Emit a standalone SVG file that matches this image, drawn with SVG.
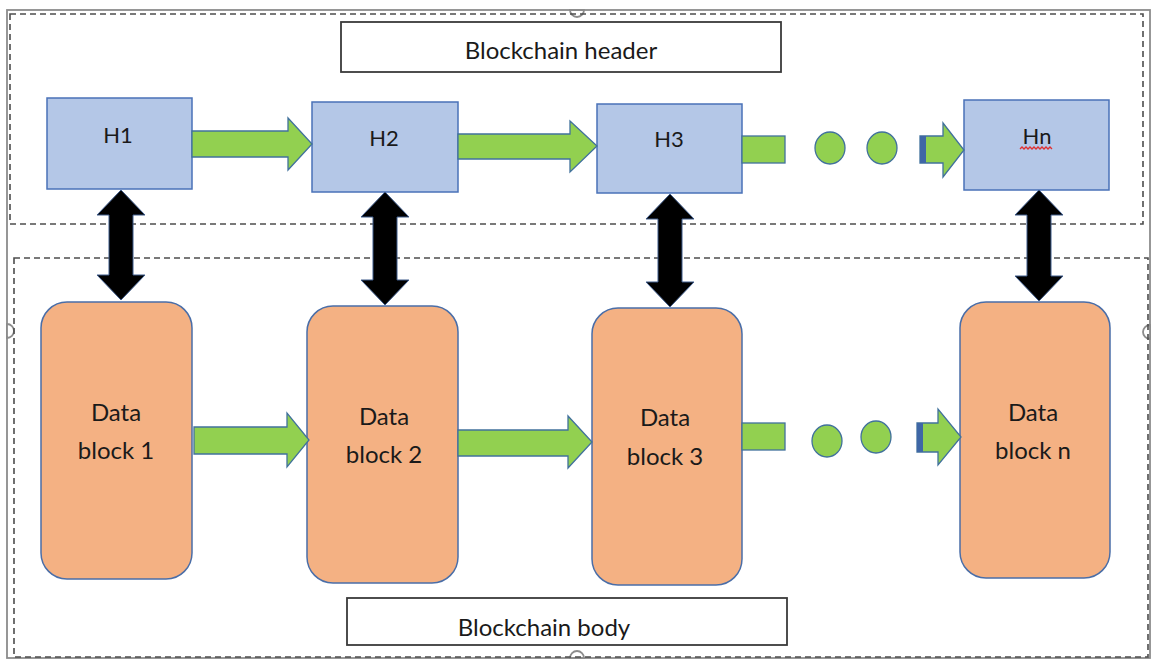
<svg xmlns="http://www.w3.org/2000/svg" width="1153" height="662" viewBox="0 0 1153 662">
  <defs>
    <style>
      .frame { fill: none; stroke: #8c8c8c; stroke-width: 1.8; }
      .handle { fill: #ffffff; stroke: #8c8c8c; stroke-width: 1.8; }
      .dash { fill: none; stroke: #4d4d4d; stroke-width: 1.6; stroke-dasharray: 6 4; }
      .label { fill: #ffffff; stroke: #3a3a3a; stroke-width: 1.8; }
      .hdr { fill: #b4c7e7; stroke: #4a72b8; stroke-width: 1.5; }
      .blk { fill: #f4b183; stroke: #4a6ea8; stroke-width: 1.5; }
      .green { fill: #92d050; stroke: #41719c; stroke-width: 1.3; }
      .stripe { fill: #3f67a6; }
      .dbl { fill: #000000; stroke: #3d5a8a; stroke-width: 1; }
      text { font-family: Lato, "Liberation Sans", sans-serif; fill: #1a1a1a; text-anchor: middle; }
      .t22 { font-size: 22px; }
      .t24 { font-size: 24px; }
      .squiggle { fill: none; stroke: #e03030; stroke-width: 1.3; }
    </style>
  </defs>

  <!-- outer selection frame with handles -->
  <g id="frame">
    <rect class="frame" x="7" y="10" width="1143" height="648"/>
    <path class="handle" d="M570,10 A7,7 0 0 0 584,10 Z"/>
    <path class="handle" d="M570,658 A7,7 0 0 1 584,658 Z"/>
    <path class="handle" d="M7,324 A7,7 0 0 1 7,338 Z"/>
    <path class="handle" d="M1150,325 A7,7 0 0 0 1150,339 Z"/>
  </g>

  <!-- dashed group outlines -->
  <g id="header-group">
    <rect class="dash" x="10" y="14" width="1133" height="210"/>
    <rect class="label" x="341" y="22" width="440" height="50"/>
    <text class="t24" x="561" y="59">Blockchain header</text>
  </g>
  <g id="body-group">
    <rect class="dash" x="14" y="258" width="1134" height="399"/>
    <rect class="label" x="347" y="598" width="440" height="47"/>
    <text class="t24" x="544" y="636">Blockchain body</text>
  </g>

  <!-- header nodes -->
  <g id="H1">
    <rect class="hdr" x="47" y="98" width="145" height="91"/>
    <text class="t22" x="118" y="143">H1</text>
  </g>
  <g id="H2">
    <rect class="hdr" x="312" y="102" width="146" height="90"/>
    <text class="t22" x="384" y="146">H2</text>
  </g>
  <g id="H3">
    <rect class="hdr" x="597" y="104" width="145" height="89"/>
    <text class="t22" x="669" y="147">H3</text>
  </g>
  <g id="Hn">
    <rect class="hdr" x="964" y="100" width="145" height="90"/>
    <text class="t22" x="1037" y="144">Hn</text>
    <path class="squiggle" d="M1020,149 l2,-2 l2,2 l2,-2 l2,2 l2,-2 l2,2 l2,-2 l2,2 l2,-2 l2,2 l2,-2 l2,2 l2,-2 l2,2 l2,-2 l2,2"/>
  </g>

  <!-- data block nodes -->
  <g id="DB1">
    <rect class="blk" x="41" y="302" width="151" height="277" rx="26"/>
    <text class="t24" x="116" y="421">Data</text>
    <text class="t24" x="116" y="459">block 1</text>
  </g>
  <g id="DB2">
    <rect class="blk" x="307" y="306" width="151" height="277" rx="26"/>
    <text class="t24" x="384" y="425">Data</text>
    <text class="t24" x="384" y="463">block 2</text>
  </g>
  <g id="DB3">
    <rect class="blk" x="592" y="308" width="150" height="277" rx="26"/>
    <text class="t24" x="665" y="426">Data</text>
    <text class="t24" x="665" y="465">block 3</text>
  </g>
  <g id="DBn">
    <rect class="blk" x="960" y="302" width="150" height="276" rx="26"/>
    <text class="t24" x="1033" y="421">Data</text>
    <text class="t24" x="1033" y="459">block n</text>
  </g>

  <!-- connectors -->
  <g id="connectors">
    <!-- header chain -->
    <polygon class="green" points="192,131 288,131 288,118 312,144 288,170 288,157 192,157"/>
    <polygon class="green" points="458,134 570,134 570,121 597,146 570,172 570,159 458,159"/>
    <rect class="green" x="742" y="136" width="43" height="27"/>
    <ellipse class="green" cx="830" cy="148" rx="15" ry="16"/>
    <ellipse class="green" cx="882" cy="148" rx="15" ry="16"/>
    <polygon class="green" points="920,136 943,136 943,123 964,150 943,177 943,163 920,163"/>
    <rect class="stripe" x="920" y="136" width="6" height="27"/>

    <!-- body chain -->
    <polygon class="green" points="194,427 287,427 287,413 309,440 287,467 287,454 194,454"/>
    <polygon class="green" points="458,430 568,430 568,416 592,442 568,468 568,456 458,456"/>
    <rect class="green" x="742" y="423" width="43" height="27"/>
    <ellipse class="green" cx="827" cy="441" rx="15" ry="16"/>
    <ellipse class="green" cx="876" cy="437" rx="15" ry="16"/>
    <polygon class="green" points="917,423 938,423 938,409 961,437 938,465 938,452 917,452"/>
    <rect class="stripe" x="917" y="423" width="6" height="29"/>

    <!-- header to data block links -->
    <polygon class="dbl" points="121,190 145,215 133,215 133,275 145,275 121,300 97,275 109,275 109,215 97,215"/>
    <polygon class="dbl" points="385,192 409,217 397,217 397,280 409,280 385,305 361,280 373,280 373,217 361,217"/>
    <polygon class="dbl" points="670,194 694,219 682,219 682,282 694,282 670,307 646,282 658,282 658,219 646,219"/>
    <polygon class="dbl" points="1039,190 1063,215 1051,215 1051,276 1063,276 1039,301 1015,276 1027,276 1027,215 1015,215"/>
  </g>
</svg>
